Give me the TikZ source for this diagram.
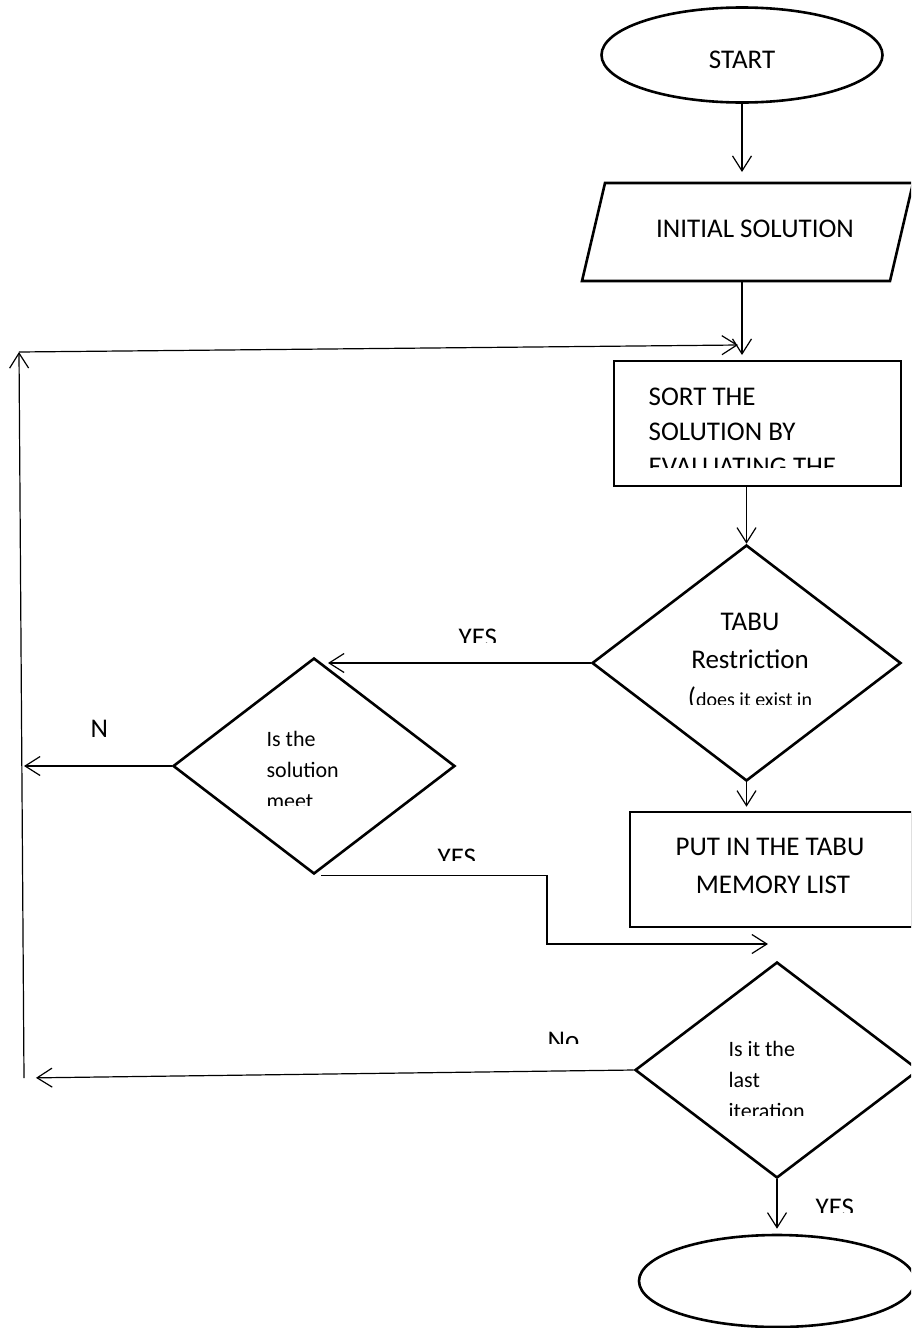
\documentclass[tikz,border=0pt]{standalone}
\usepackage{fontspec}
\setmainfont{Carlito}
\usetikzlibrary{shapes.geometric}
\usetikzlibrary{arrows.meta}

\tikzset{
  shapebox/.style={draw,line width=2.6pt,inner sep=0pt},
  arr/.style={-{Straight Barb[length=15pt,width=19pt]}},
  big/.style={font=\fontsize{27}{34}\selectfont,inner sep=0pt},
  small/.style={font=\fontsize{22}{28}\selectfont,inner sep=0pt}
}

\begin{document}
\begin{tikzpicture}[x=1pt,y=-1pt,line width=1.2pt]
\useasboundingbox (0,0) rectangle (911,1328);
\clip (0,0) rectangle (911,1328);

% shapes
\node (start) [ellipse,shapebox,minimum width=281pt,minimum height=95pt] at (742,55) {};
\coordinate (initNW) at (605,183);
\coordinate (initNE) at (913,183);
\coordinate (initSE) at (890,281);
\coordinate (initSW) at (582,281);
\draw [shapebox,line join=miter] (initNW) -- (initNE) -- (initSE) -- (initSW) -- cycle;
\node (sort) [rectangle,shapebox,minimum width=287pt,minimum height=125pt] at (757.5,423.5) {};
\node (tabu) [diamond,shapebox,minimum width=309pt,minimum height=236pt] at (746.5,663) {};
\node (meet) [diamond,shapebox,minimum width=282pt,minimum height=216pt] at (314,766) {};
\node (put) [rectangle,shapebox,minimum width=282pt,minimum height=115pt] at (771,869.5) {};
\node (last) [diamond,shapebox,minimum width=284pt,minimum height=216pt] at (777,1070) {};
\node (stop) [ellipse,shapebox,minimum width=276pt,minimum height=92pt] at (777,1281) {};

% texts
\node (startT) [big,anchor=base] at (742,68) {START};
\node (init) [big,anchor=base] at (755,237) {INITIAL SOLUTION};
\begin{scope}
\clip (614,361) rectangle (901,467);
\node (sortA) [big,anchor=base west] at (648,405) {SORT THE};
\node (sortB) [big,anchor=base west] at (648,440) {SOLUTION BY};
\node (sortC) [big,anchor=base west] at (648,475) {EVALUATING THE};
\end{scope}
\begin{scope}
\clip (590,545) rectangle (905,704);
\node (tabuA) [big,anchor=base] at (750,630) {TABU};
\node (tabuB) [big,anchor=base] at (750,668) {Restriction};
\node (tabuC) [big,anchor=base] at (750,706) {(\fontsize{20}{24}\selectfont does it exist in};
\end{scope}
\begin{scope}
\clip (170,658) rectangle (460,805);
\node (meetA) [small,anchor=base west] at (266,746) {Is the};
\node (meetB) [small,anchor=base west] at (266,777) {solution};
\node (meetC) [small,anchor=base west] at (266,808) {meet};
\end{scope}
\node (putA) [big,anchor=base] at (770,855) {PUT IN THE TABU};
\node (putB) [big,anchor=base] at (773,893) {MEMORY LIST};
\begin{scope}
\clip (630,962) rectangle (911,1115);
\node (lastA) [small,anchor=base west] at (728,1056) {Is it the};
\node (lastB) [small,anchor=base west] at (728,1087) {last};
\node (lastC) [small,anchor=base west] at (728,1118) {iteration};
\end{scope}

% labels
\begin{scope}
\clip (440,620) rectangle (520,642);
\node (yesA) [big,anchor=base west] at (458,646) {YES};
\end{scope}
\node (no1) [big,anchor=base west] at (90,737) {N};
\begin{scope}
\clip (420,840) rectangle (500,860);
\node (yesB) [big,anchor=base west] at (437,866) {YES};
\end{scope}
\begin{scope}
\clip (530,1020) rectangle (600,1043);
\node (no2) [big,anchor=base west] at (547,1049) {No};
\end{scope}
\begin{scope}
\clip (800,1190) rectangle (880,1212);
\node (yesC) [big,anchor=base west] at (815,1216) {YES};
\end{scope}

% connectors
\coordinate (join) at (742,355);
\coordinate (loopT) at (19,352);
\coordinate (loopB) at (24,1078);
\coordinate (loopE) at (738,345);
\coordinate (bend) at (547,944);
\draw [arr,shorten >=11pt] (start.south) -- (start.south |- initNW);
\draw [arr] (initSW -| join) -- (join);
\draw [arr] (loopB) -- (loopT);
\draw [arr] (loopT) -- (loopE);
\draw [arr] (tabu.north |- sort.south) -- (tabu.north);
\draw [arr,shorten >=14pt] (tabu.west) -- (tabu.west -| meet.north);
\draw [arr] (meet.west) -- (meet.west -| loopB);
\draw [arr,shorten >=4pt] (tabu.south) -- (tabu.south |- put.north);
\draw [arr,shorten <=7pt,shorten >=9pt] (meet.south) -| (bend) -- (bend -| last.north);
\draw [arr,shorten >=12pt] (last.west) -- (loopB);
\draw [arr,shorten >=5pt] (last.south) -- (stop.north);
\end{tikzpicture}
\end{document}
